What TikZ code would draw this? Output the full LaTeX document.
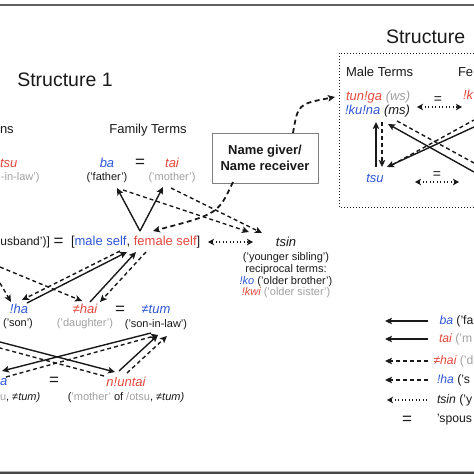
\documentclass[tikz,border=0pt]{standalone}
\usepackage{fontspec}
\setmainfont{Liberation Sans}
\usetikzlibrary{arrows.meta}
\definecolor{tred}{RGB}{229,72,60}
\definecolor{tblue}{RGB}{47,86,214}
\definecolor{tgray}{RGB}{160,160,160}
\definecolor{tdark}{RGB}{25,25,25}
\begin{document}
\begin{tikzpicture}[x=1pt,y=-1pt,
  every node/.style={inner sep=0pt,outer sep=0pt,text=tdark},
  term/.style={font=\fontsize{13}{15}\selectfont\itshape},
  lab/.style={font=\fontsize{13}{15}\selectfont},
  leg/.style={font=\fontsize{12.2}{14}\selectfont},
  gl/.style={font=\fontsize{11}{12}\selectfont},
  ttl/.style={font=\fontsize{19.5}{22}\selectfont},
  eqs/.style={font=\fontsize{17}{17}\selectfont},
  eqsm/.style={font=\fontsize{14}{14}\selectfont},
  tip/.style={-{Stealth[length=7pt,width=6.5pt,inset=1.5pt]}},
  solidarr/.style={tdark,line width=1.4pt,tip},
  dasharr/.style={tdark,line width=1.4pt,dash pattern=on 4pt off 3pt,tip},
  dashplain/.style={tdark,line width=1.4pt,dash pattern=on 4pt off 3pt},
  thickdash/.style={tdark,line width=1.8pt,dash pattern=on 5pt off 3.5pt,tip},
  dotarr/.style={tdark,line width=1.4pt,dash pattern=on 1.2pt off 2.3pt,
     {Stealth[length=6pt,width=6.5pt,inset=1.5pt]}-{Stealth[length=6pt,width=6.5pt,inset=1.5pt]}},
  dotleft/.style={tdark,line width=1.4pt,dash pattern=on 1.2pt off 2.3pt,
     {Stealth[length=6pt,width=6.5pt,inset=1.5pt]}-}]
\useasboundingbox (0,0) rectangle (474,474);
% frame lines
\fill[gray!75!black] (0,4.3) rectangle (474,5.8);
\fill[black!72] (0,471) rectangle (474,474);
\fill[gray!60] (0,470.5) rectangle (474,471.3);

% ---------- Structure 1 ----------
\node[ttl] (t1) at (65,80) {Structure 1};
\node[lab,anchor=west] (lterms) at (0,130) {ns};
\node[lab] (fterms) at (148,130) {Family Terms};
\node[term,anchor=west,text=tred] (ltsu) at (0,163) {tsu};
\node[gl,anchor=west,text=tgray] (linlaw) at (1,178) {-in-law')};

\node[term,text=tblue] (ba) at (107,163) {ba};
\node[eqs] (eq1) at (140,163) {=};
\node[term,text=tred] (tai) at (172,163) {tai};
\node[gl] (father) at (107,178) {('father')};
\node[gl,text=tgray] (mother) at (172,178) {('mother')};

\node[draw=gray,line width=0.9pt,minimum width=106pt,minimum height=50pt,
  align=center,font=\fontsize{13}{16}\selectfont\bfseries] (box) at (265,158)
  {Name giver/\\Name receiver};

\node[font=\fontsize{12}{14}\selectfont,anchor=west] (husb) at (0.5,242) {usband')]};
\node[eqs] (eq2) at (58.5,242) {=};
\node[lab,anchor=west] (self) at (71,242)
  {[\textcolor{tblue}{male self}, \textcolor{tred}{female self}]};

\node[term] (tsin) at (286,242) {tsin};
\node[gl] (young) at (286,258) {('younger sibling')};
\node[gl] (recip) at (286,270) {reciprocal terms:};
\node[gl] (ko) at (286,282) {\textcolor{tblue}{\itshape !ko} ('older brother')};
\node[gl] (kwi) at (286,293) {\textcolor{tred}{\itshape !kwi} \textcolor{tgray}{('older sister')}};

\node[term,text=tblue] (ha) at (19,309) {!ha};
\node[gl] (son) at (18,324) {('son')};
\node[term,text=tred] (hai) at (85,309) {≠hai};
\node[gl,text=tgray] (daughter) at (85,324) {('daughter')};
\node[eqs] (eq3) at (120,310) {=};
\node[term,text=tblue] (tum) at (156,309) {≠tum};
\node[gl] (sil) at (156,325) {('son-in-law')};

\node[term,text=tblue,anchor=west] (la) at (0,382) {a};
\node[eqs] (eq4) at (54,381) {=};
\node[term,text=tred] (nuntai) at (126,382) {n!untai};
\node[gl,anchor=west] (lutum) at (0,398) {\textcolor{tgray}{u}, \textit{≠tum)}};
\node[gl] (motherof) at (126,398)
  {(\textcolor{tgray}{'mother'} of \textcolor{tgray}{/otsu}, \textit{≠tum)}};

% connector end points
\coordinate (selfV) at (140,231);
\coordinate (baT) at (117,188);
\coordinate (taiT) at (163,187);
\coordinate (baD) at (123,190);
\coordinate (taiD) at (171,188);
\coordinate (tsinA) at (249,232);
\coordinate (tsinB) at (262,233);
\coordinate (selfL) at (208,242);
\coordinate (tsinL) at (253,242);
\coordinate (boxB) at (233,182);
\coordinate (selfR) at (153,231);

\draw[solidarr] (selfV) -- (baT);
\draw[solidarr] (selfV) -- (taiT);
\draw[dasharr] (baD) -- (tsinA);
\draw[dasharr] (taiD) -- (tsinB);
\draw[dotarr] (selfL) -- (tsinL);
\draw[thickdash] (boxB) .. controls (218,214) .. (selfR);

% children
\coordinate (haS) at (27,303);
\coordinate (haD) at (22,300);
\coordinate (selfA) at (127,252);
\coordinate (selfB) at (120,251);
\coordinate (haiS) at (90,302);
\coordinate (selfC) at (136,252);
\coordinate (selfD) at (146,252);
\coordinate (haiD) at (100,302);
\coordinate (lft1) at (0,267);
\coordinate (haiE) at (82,301);
\coordinate (lft2) at (0,283);
\coordinate (haE) at (11,302);

\draw[solidarr] (haS) -- (selfA);
\draw[dasharr] (selfB) -- (haD);
\draw[solidarr] (haiS) -- (selfC);
\draw[dasharr] (selfD) -- (haiD);
\draw[dasharr] (lft1) -- (haiE);
\draw[dasharr] (lft2) -- (haE);

% lower cross
\coordinate (lft3) at (0,342);
\coordinate (nuA) at (115,372);
\coordinate (lft4) at (0,348);
\coordinate (nuB) at (104,376);
\coordinate (tumA) at (151,333);
\coordinate (laA) at (2,371);
\coordinate (laB) at (6,377);
\coordinate (tumB) at (158,335);
\coordinate (nuC) at (119,371);
\coordinate (nuD) at (127,373);
\coordinate (tumC) at (167,336);

\draw[solidarr] (lft3) -- (nuA);
\draw[dashplain] (nuB) -- (lft4);
\draw[solidarr] (tumA) -- (laA);
\draw[dasharr] (laB) -- (tumB);
\draw[solidarr] (nuC) -- (tumB);
\draw[dasharr] (nuD) -- (tumC);

% ---------- Structure 2 ----------
\node[ttl,anchor=west] (t2) at (386,37) {Structure};
\draw[tdark,line width=1pt,dash pattern=on 1pt off 2pt] (474,53) -- (339,53) -- (339,207) -- (474,207);
\node[lab,anchor=west] (mterms) at (346,72) {Male Terms};
\node[lab,anchor=west] (fe) at (458,72) {Fe};
\node[term,anchor=west] (tunga) at (346,97) {\textcolor{tred}{tun!ga} \textcolor{tgray}{(ws)}};
\node[term,anchor=west] (kuna) at (345,111) {\textcolor{tblue}{!ku!na} (ms)};
\node[term,anchor=west,text=tred] (rk) at (463,95) {!k};
\node[term,text=tblue] (tsu2) at (375,178) {tsu};

\coordinate (boxT) at (293,133);
\coordinate (tungaW) at (335,97);
\draw[thickdash] (boxT) .. controls (298,104) .. (tungaW);

\coordinate (tsuUp) at (376,167);
\coordinate (kunaDn) at (376,122);
\coordinate (kunaD2) at (382,122);
\coordinate (tsuD2) at (382,167);
\draw[solidarr] (tsuUp) -- (kunaDn);
\draw[dasharr] (kunaD2) -- (tsuD2);

\coordinate (r1) at (474,172);
\coordinate (kunaX) at (388,124);
\coordinate (r2) at (474,163);
\coordinate (kunaY) at (397,121);
\coordinate (r3) at (474,127);
\coordinate (tsuX) at (387,167);
\coordinate (r4) at (474,120);
\coordinate (tsuY) at (392,165);
\draw[solidarr] (r1) -- (kunaX);
\draw[dashplain] (kunaY) -- (r2);
\draw[solidarr] (r3) -- (tsuX);
\draw[dashplain] (tsuY) -- (r4);

\coordinate (eqa1) at (417,107);
\coordinate (eqa2) at (462,107);
\coordinate (eqb1) at (415,182);
\coordinate (eqb2) at (459,182);
\draw[dotarr] (eqa1) -- (eqa2);
\draw[dotarr] (eqb1) -- (eqb2);
\node[eqsm] (eqt) at (438,100) {=};
\node[eqsm] (eqb) at (437,175) {=};

% ---------- Legend ----------
\coordinate (g1a) at (428,321); \coordinate (g1b) at (385,321);
\coordinate (g2a) at (428,339); \coordinate (g2b) at (385,339);
\coordinate (g3a) at (428,361); \coordinate (g3b) at (385,361);
\coordinate (g4a) at (428,380); \coordinate (g4b) at (385,380);
\coordinate (g5a) at (428,400); \coordinate (g5b) at (387,400);
\draw[solidarr] (g1a) -- (g1b);
\draw[solidarr] (g2a) -- (g2b);
\draw[dasharr] (g3a) -- (g3b);
\draw[dasharr] (g4a) -- (g4b);
\draw[dotleft] (g5b) -- (g5a);
\node[leg,anchor=west] (lg1) at (439.5,321) {\textcolor{tblue}{\itshape ba} ('fa};
\node[leg,anchor=west] (lg2) at (439,339) {\textcolor{tred}{\itshape tai} \textcolor{tgray}{('m}};
\node[leg,anchor=west] (lg3) at (433.5,361) {\textcolor{tred}{\itshape ≠hai} \textcolor{tgray}{('d}};
\node[leg,anchor=west] (lg4) at (437,380) {\textcolor{tblue}{\itshape !ha} ('s};
\node[leg,anchor=west] (lg5) at (437,400) {\textit{tsin} ('y};
\node[eqs] (lg6e) at (407,420) {=};
\node[leg,anchor=west] (lg6) at (437,420) {'spous};
\end{tikzpicture}
\end{document}
